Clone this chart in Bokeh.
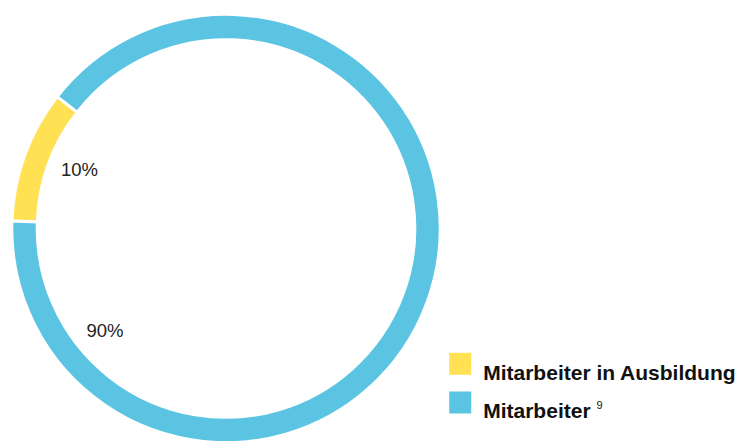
import numpy as np
from bokeh.plotting import figure
from bokeh.models import Range1d, ColumnDataSource
from bokeh.core.properties import value
from bokeh.embed import file_html
from bokeh.resources import INLINE

# ---- data ----
categories = ["Mitarbeiter in Ausbildung", "Mitarbeiter"]
shares = [10, 90]
pct_labels = ["10%", "90%"]
colors = ["#FFE153", "#5BC4E2"]
legend_sup = ["", "9"]

# ---- layout (pixel-like data coordinates, y up) ----
W, H = 744, 441
cx, cy = 225.5, H - 228
r_in, r_out = 188.8, 214.2
start_deg = 178.0          # first slice starts here and runs clockwise
label_angles = [158.0, 220.0]
label_r = 158.0

p = figure(width=W, height=H, output_backend="svg", toolbar_location=None,
           x_range=Range1d(0, W), y_range=Range1d(0, H),
           min_border=0, outline_line_color=None, background_fill_color="white")
p.axis.visible = False
p.grid.visible = False

total = float(sum(shares))
cum = np.cumsum([0] + shares) / total * 360.0
ends = np.deg2rad(start_deg - cum[:-1])
starts = np.deg2rad(start_deg - cum[1:])
src = ColumnDataSource(dict(start=starts, end=ends, color=colors))
p.annular_wedge(x=cx, y=cy, inner_radius=r_in, outer_radius=r_out,
                start_angle="start", end_angle="end", direction="anticlock",
                fill_color="color", line_color="white", line_width=3, source=src)

la = np.deg2rad(label_angles)
p.text(x=cx + label_r * np.cos(la), y=cy + label_r * np.sin(la), text=pct_labels,
       text_font=value("Liberation Sans"), text_font_size="18.5px",
       text_color="#222222", text_align="center", text_baseline="middle")

# legend
leg_x, leg_y0, leg_dy = 459.7, H - 363.3, 38.7
ly = [leg_y0 - i * leg_dy for i in range(len(categories))]
p.rect(x=[leg_x] * len(categories), y=ly, width=22, height=22,
       width_units="screen", height_units="screen", fill_color=colors, line_color=None)
p.text(x=[leg_x + 23] * len(categories), y=[v - 8.3 for v in ly], text=categories,
       text_font=value("Liberation Sans"), text_font_size="21px", text_font_style="bold",
       text_color="#111111", text_align="left", text_baseline="alphabetic")
p.text(x=[596], y=[ly[1] - 2.3], text=[legend_sup[1]],
       text_font=value("Liberation Sans"), text_font_size="11px",
       text_color="#111111", text_align="left", text_baseline="alphabetic")

open("out.html", "w").write(file_html(p, INLINE))
